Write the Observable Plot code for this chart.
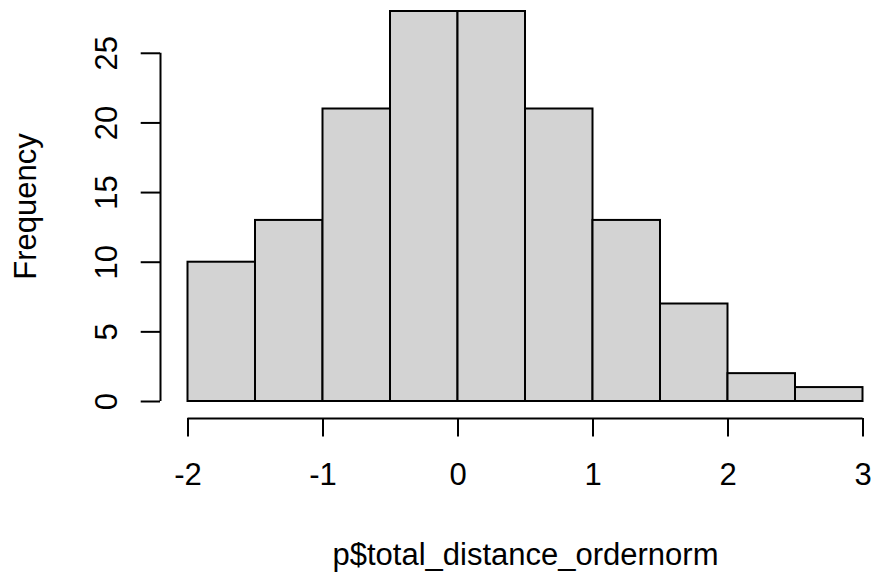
<!DOCTYPE html>
<html><head><meta charset="utf-8">
<script src="https://cdn.jsdelivr.net/npm/d3@7"></script>
<script src="https://cdn.jsdelivr.net/npm/@observablehq/plot@0.6"></script>
<style>body{margin:0;background:#fff}</style>
</head><body><div id="chart"></div>
<script>
const binStart = [-2, -1.5, -1, -0.5, 0, 0.5, 1, 1.5, 2, 2.5];
const binEnd = [-1.5, -1, -0.5, 0, 0.5, 1, 1.5, 2, 2.5, 3];
const counts = [10, 13, 21, 28, 28, 21, 13, 7, 2, 1];
const xTicks = [-2, -1, 0, 1, 2, 3];
const yTicks = [0, 5, 10, 15, 20, 25];
const xLabel = "p$total_distance_ordernorm";
const yLabel = "Frequency";

const bins = counts.map((c, i) => ({x1: binStart[i], x2: binEnd[i], y: c}));
const fmt = d => String(d);

const chart = Plot.plot({
  width: 871,
  height: 572,
  marginLeft: 187.5,
  marginRight: 8.5,
  marginTop: 11,
  marginBottom: 171,
  style: {fontFamily: "'Liberation Sans', Arial, sans-serif", fontSize: "31px", color: "black", background: "white", overflow: "visible"},
  x: {domain: [-2, 3]},
  y: {domain: [0, 28]},
  marks: [
    Plot.rectY(bins, {x1: "x1", x2: "x2", y: "y", fill: "#d3d3d3", stroke: "black", strokeWidth: 2}),
    Plot.ruleY([0], {x1: xTicks[0], x2: xTicks[xTicks.length - 1], dy: 17, stroke: "black", strokeWidth: 2}),
    Plot.axisX({ticks: xTicks, tickFormat: fmt, tickSize: 18.5, tickPadding: 26, dy: 17, strokeWidth: 2, label: null}),
    Plot.ruleX([xTicks[0]], {y1: yTicks[0], y2: yTicks[yTicks.length - 1], dx: -27.5, stroke: "black", strokeWidth: 2}),
    Plot.axisY({ticks: yTicks, tickFormat: fmt, tickSize: 19.3, tickRotate: -90, tickPadding: 24, dx: -27.5, strokeWidth: 2, label: null}),
    Plot.text([xLabel], {frameAnchor: "bottom", lineAnchor: "middle", textAnchor: "middle", dy: 154, fill: "black"}),
    Plot.text([yLabel], {frameAnchor: "left", lineAnchor: "middle", textAnchor: "middle", rotate: -90, dx: -162, fill: "black"})
  ]
});
document.getElementById("chart").appendChild(chart);
</script>
</body></html>
